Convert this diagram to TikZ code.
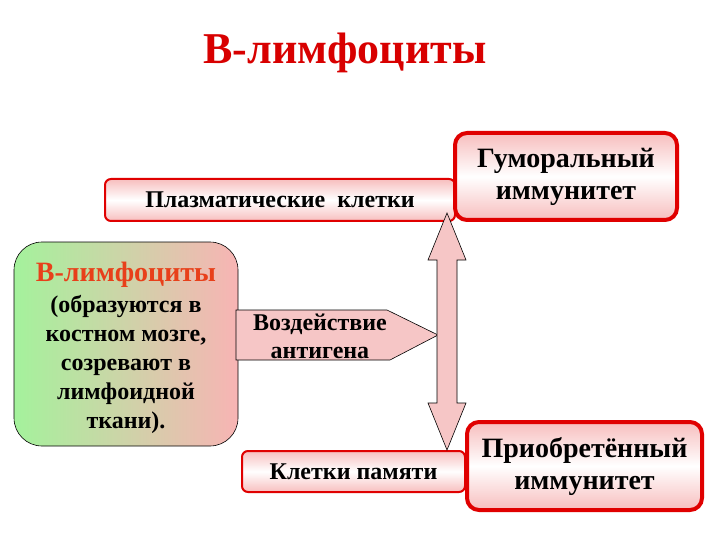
\documentclass[tikz,border=0pt]{standalone}
\usepackage{fontspec}
\setmainfont{Liberation Serif}
\definecolor{redb}{HTML}{E00000}
\definecolor{pinkf}{HTML}{F7BEBE}
\definecolor{titlered}{HTML}{D80000}
\definecolor{orred}{HTML}{E8401A}
\definecolor{greenf}{HTML}{A4F29C}
\definecolor{pinkg}{HTML}{F8B4B4}
\definecolor{arrowpink}{HTML}{F6C6C6}
\tikzset{
  thinbox/.style={draw=redb, line width=2pt, rounded corners=6pt, top color=pinkf, bottom color=pinkf, middle color=white, font=\bfseries\fontsize{24}{27}\selectfont, inner sep=0pt},
  bigbox/.style={draw=redb, line width=4pt, rounded corners=12pt, top color=pinkf, bottom color=pinkf, middle color=white, font=\bfseries\fontsize{28}{32}\selectfont, align=center, inner sep=0pt},
  greenbox/.style={draw=black, line width=0.6pt, rounded corners=28pt, left color=greenf, right color=pinkg, font=\bfseries\fontsize{24}{29}\selectfont, align=center, inner sep=0pt},
  blockarrow/.style={draw=black, line width=0.6pt, fill=arrowpink, line join=miter},
}
\begin{document}
\begin{tikzpicture}[x=1pt,y=-1pt]
\useasboundingbox (0,0) rectangle (720,540);
\fill[white] (0,0) rectangle (720,540);
\node[font=\bfseries\fontsize{44}{50}\selectfont, text=titlered] (title) at (345,53) {В-лимфоциты};

\node[thinbox, minimum width=350pt, minimum height=42pt] (plasma) at (280,200) {Плазматические\ \ клетки};
\node[bigbox, minimum width=222pt, minimum height=87pt] (humoral) at (566,176.5) {Гуморальный\\иммунитет};
\node[bigbox, minimum width=235pt, minimum height=88pt] (acquired) at (584.5,466) {Приобретённый\\иммунитет};
\node[thinbox, minimum width=223pt, minimum height=41pt] (memory) at (353.5,471.5) {Клетки памяти};
\node[greenbox, minimum width=224pt, minimum height=204pt] (blym) at (126,344) {};
\node[font=\bfseries\fontsize{24}{29}\selectfont, align=center] (blymtext) at (126,348) {{\color{orred}\fontsize{28}{29}\selectfont В-лимфоциты}\\[2pt](образуются в\\костном мозге,\\созревают в\\лимфоидной\\ткани).};

% antigen block arrow
\coordinate (ag1) at (236,310);
\coordinate (ag2) at (387,310);
\coordinate (agtip) at (438,335);
\coordinate (ag3) at (390,360);
\coordinate (ag4) at (236,360);
\draw[blockarrow] (ag1) -- (ag2) -- (agtip) -- (ag3) -- (ag4) -- cycle;
\node[font=\bfseries\fontsize{24}{28}\selectfont, align=center] (antigen) at (320,336) {Воздействие\\антигена};

% double vertical arrow
\coordinate (dtop) at (447,213);
\coordinate (dbot) at (447,450);
\draw[blockarrow] (dtop) -- (466,260) -- (457,260) -- (457,403) -- (466,403) -- (dbot) -- (428,403) -- (437,403) -- (437,260) -- (428,260) -- cycle;
\end{tikzpicture}
\end{document}
